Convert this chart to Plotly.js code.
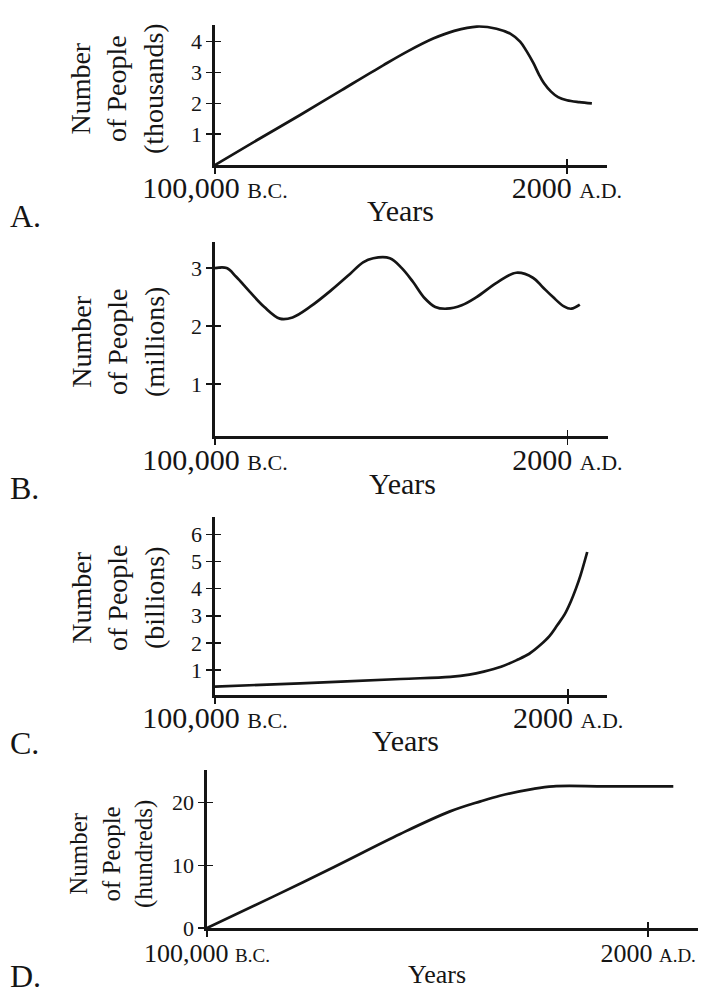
<!DOCTYPE html>
<html><head><meta charset="utf-8">
<script src="https://cdn.plot.ly/plotly-3.0.1.min.js"></script>
<style>html,body{margin:0;padding:0;background:#fff}#chart{width:705px;height:996px}</style>
</head><body><div id="chart"></div>
<script>
// ---- data ----
const tickYears = [-100000, 2000];
const tickLabelsBig = ['100,000 <span style="font-size:22px">B.C.</span>', '2000 <span style="font-size:22px">A.D.</span>'];
const tickLabelsSmall = ['100,000 <span style="font-size:19px">B.C.</span>', '2000 <span style="font-size:19px">A.D.</span>'];

const yearsA = [-100000, -87760, -75316, -63280, -51142, -43900, -36760, -30640, -24112, -18400, -14320, -11566, -9730, -7690, -6160, -4630, -2590, -550, 2000, 5570, 9242];
const peopleA = [0, 0.81, 1.62, 2.43, 3.24, 3.70, 4.10, 4.35, 4.49, 4.42, 4.25, 4.00, 3.70, 3.30, 2.95, 2.65, 2.38, 2.20, 2.10, 2.04, 2.00];

const yearsB = [-100000, -96634, -93880, -89902, -85720, -81232, -77560, -72562, -66340, -60934, -57160, -54202, -49408, -45940, -42676, -39310, -36250, -32986, -28600, -24316, -18400, -12790, -7894, -5140, -2182, 980, 3122, 5570];
const peopleB = [3.0, 3.0, 2.85, 2.59, 2.33, 2.13, 2.15, 2.33, 2.62, 2.90, 3.10, 3.17, 3.17, 3.00, 2.76, 2.48, 2.33, 2.30, 2.36, 2.50, 2.75, 2.92, 2.83, 2.67, 2.50, 2.34, 2.30, 2.37];

const yearsC = [-100000, -75418, -46450, -32068, -26560, -22378, -17380, -12790, -9220, -6058, -3406, -1162, 980, 2714, 4244, 5570, 7508];
const peopleC = [0.39, 0.51, 0.67, 0.75, 0.83, 0.94, 1.12, 1.37, 1.60, 1.92, 2.25, 2.65, 3.05, 3.51, 4.00, 4.49, 5.35];

const yearsD = [-100000, -84700, -70726, -55324, -43798, -36760, -32272, -24520, -19930, -8000, 7814];
const peopleD = [0, 5.0, 9.7, 15.0, 18.6, 20.2, 21.1, 22.2, 22.6, 22.6, 22.6];

const yTicksA = [1, 2, 3, 4];
const yTicksB = [1, 2, 3];
const yTicksC = [1, 2, 3, 4, 5, 6];
const yTicksD = [0, 10, 20];

const unitsA = 'thousands', unitsB = 'millions', unitsC = 'billions', unitsD = 'hundreds';
const letters = ['A.', 'B.', 'C.', 'D.'];
const xTitle = 'Years';

// ---- layout geometry (pixels) ----
const W = 705, H = 996;
const px = p => p / W, py = p => 1 - p / H;
const panels = [
  {x: yearsA, y: peopleA, yt: yTicksA, units: unitsA, xr: [-100000, 13628], yr: [0, 4.54],
   dx: [215, 607], dy: [165, 25], title: [117, 88], years: [400, 211], letter: 216, tf: 30, tick: tickLabelsBig, ytf: 28, so: -12},
  {x: yearsB, y: peopleB, yt: yTicksB, units: unitsB, xr: [-100000, 13730], yr: [0.106, 3.45],
   dx: [215, 608], dy: [436, 242], title: [118, 342], years: [402, 483], letter: 488, tf: 30, tick: tickLabelsBig, ytf: 28, so: -11},
  {x: yearsC, y: peopleC, yt: yTicksC, units: unitsC, xr: [-100000, 13220], yr: [0.08, 6.64],
   dx: [215, 607], dy: [695, 517], title: [118, 598], years: [405, 740], letter: 743, tf: 30, tick: tickLabelsBig, ytf: 28, so: -12},
  {x: yearsD, y: peopleD, yt: yTicksD, units: unitsD, xr: [-100000, 13526], yr: [0, 25.2],
   dx: [207, 698], dy: [928, 770], title: [111, 854], years: [437, 974], letter: 976, tf: 26, tick: tickLabelsSmall, ytf: 25, so: -6}
];

const font = 'Liberation Serif, Times New Roman, serif';
const ink = '#151515';
const data = [];
const layout = {
  width: W, height: H, margin: {l: 0, r: 0, t: 0, b: 0},
  paper_bgcolor: '#fff', plot_bgcolor: 'rgba(0,0,0,0)', showlegend: false,
  font: {family: font, color: ink}, annotations: []
};

panels.forEach((p, i) => {
  const n = i + 1, m = i + 5;
  const xa = n === 1 ? 'x' : 'x' + n, ya = n === 1 ? 'y' : 'y' + n;
  data.push({x: p.x, y: p.y, xaxis: xa, yaxis: ya, type: 'scatter', mode: 'lines',
    line: {color: ink, width: 2.7, shape: 'spline', smoothing: 1}, hoverinfo: 'skip'});
  data.push({x: [], y: [], xaxis: 'x' + m, yaxis: 'y' + m, type: 'scatter', mode: 'lines', hoverinfo: 'skip'});
  const base = {showgrid: false, zeroline: false, fixedrange: true};
  layout['xaxis' + (n === 1 ? '' : n)] = Object.assign({}, base, {
    domain: [px(p.dx[0]), px(p.dx[1])], anchor: ya, range: p.xr,
    showline: true, linecolor: ink, linewidth: 2.6,
    tickmode: 'array', tickvals: tickYears, ticktext: p.tick,
    ticks: 'outside', ticklen: 6, tickwidth: 1.5, tickcolor: ink, ticklabelstandoff: p.so,
    tickfont: {family: font, size: p.tf, color: ink}
  });
  layout['yaxis' + (n === 1 ? '' : n)] = Object.assign({}, base, {
    domain: [py(p.dy[0]), py(p.dy[1])], anchor: xa, range: p.yr,
    showline: true, linecolor: ink, linewidth: 2.6,
    tickmode: 'array', tickvals: p.yt,
    ticks: 'outside', ticklen: 6, tickwidth: 1.5, tickcolor: ink, ticklabelstandoff: 0,
    tickfont: {family: font, size: 22, color: ink}
  });
  // overlay axes to make tick marks cross the axis lines
  layout['xaxis' + m] = Object.assign({}, base, {
    overlaying: xa, anchor: 'y' + m, range: p.xr, showline: false,
    tickmode: 'array', tickvals: tickYears, showticklabels: false,
    ticks: 'inside', ticklen: 6, tickwidth: 1.5, tickcolor: ink
  });
  layout['yaxis' + m] = Object.assign({}, base, {
    overlaying: ya, anchor: 'x' + m, range: p.yr, showline: false, side: 'left',
    tickmode: 'array', tickvals: p.yt, showticklabels: false,
    ticks: 'inside', ticklen: 6, tickwidth: 1.5, tickcolor: ink
  });
  layout.annotations.push({
    xref: 'paper', yref: 'paper', x: px(p.title[0]), y: py(p.title[1]),
    xanchor: 'center', yanchor: 'middle', textangle: -90, showarrow: false, align: 'center',
    text: 'Number<br>of People<br>(' + p.units + ')', font: {family: font, size: p.ytf, color: ink}
  });
  layout.annotations.push({
    xref: 'paper', yref: 'paper', x: px(p.years[0]), y: py(p.years[1]),
    xanchor: 'center', yanchor: 'middle', showarrow: false,
    text: xTitle, font: {family: font, size: p.tf, color: ink}
  });
  layout.annotations.push({
    xref: 'paper', yref: 'paper', x: px(8), y: py(p.letter),
    xanchor: 'left', yanchor: 'middle', showarrow: false,
    text: letters[i], font: {family: font, size: 32, color: ink}
  });
});

Plotly.newPlot('chart', data, layout, {staticPlot: true, displayModeBar: false});
</script>
</body></html>
